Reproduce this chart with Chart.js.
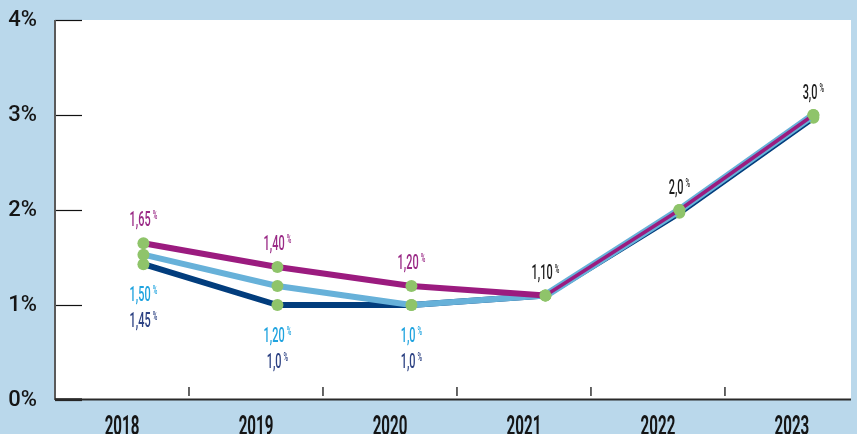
<!DOCTYPE html>
<html><head><meta charset="utf-8">
<style>
html,body{margin:0;padding:0;background:#bad8eb;overflow:hidden;}
#wrap{position:relative;width:857px;height:434px;}
</style>
<script src="https://cdn.jsdelivr.net/npm/chart.js@4"></script>
</head><body>
<div id="wrap"><canvas id="c" width="857" height="434"></canvas></div>
<script>
// ---- data ----
const years = ['2018','2019','2020','2021','2022','2023'];
const yTickValues = [0,1,2,3,4];
const purpleValues = [1.65, 1.40, 1.20, 1.10, 2.0, 3.0];
const lightValues  = [1.53, 1.20, 1.00, 1.10, 2.0, 3.0];
const darkValues   = [1.43, 1.00, 1.00, 1.10, 1.97, 2.97];
const purpleLabels = ['1,65','1,40','1,20', null, null, null];
const lightLabels  = ['1,50','1,20','1,0', null, null, null];
const darkLabels   = ['1,45','1,0','1,0', null, null, null];
const commonLabels = [null, null, null, '1,10','2,0','3,0'];

// ---- style ----
const PURPLE='#9b1b7f', LIGHT='#67b1d9', DARK='#023d7d', GREEN='#8fc46a';
const T_PURPLE='#9a2a86', T_LIGHT='#1fa3df', T_DARK='#2d4283', T_COMMON='#1c1c1c';
const PT_OFF = 0.16;
const BAND = 135;

function pts(vals){ return vals.map((v,i)=>({x:i+PT_OFF, y:v})); }

function drawPct(ctx, text, cx, cy, color){
  ctx.save();
  ctx.fillStyle = color;
  const sx = 0.52;
  const F1 = '500 21px Roboto', F2 = '500 12px Roboto';
  ctx.font = F1;
  const w = ctx.measureText(text).width*sx;
  ctx.font = F2;
  const pw = ctx.measureText('%').width*sx;
  const gap = 2;
  const total = w + gap + pw;
  const x0 = cx - total/2;
  ctx.textBaseline='alphabetic';
  ctx.textAlign='left';
  ctx.translate(x0, cy + 7.5);
  ctx.scale(sx,1);
  ctx.font = F1;
  ctx.fillText(text, 0, 0);
  ctx.font = F2;
  ctx.fillText('%', (w+gap)/sx, -6.5);
  ctx.restore();
}

const deco = {
  id:'deco',
  beforeDraw(chart){
    const {ctx, chartArea:a} = chart;
    ctx.save();
    ctx.fillStyle='#ffffff';
    ctx.fillRect(a.left, a.top, a.right-a.left, a.bottom-a.top);
    ctx.restore();
  },
  beforeDatasetsDraw(chart){
    const {ctx, chartArea:a, scales:{x,y}} = chart;
    ctx.save();
    ctx.strokeStyle='#111'; ctx.lineWidth=1.2;
    yTickValues.forEach(v=>{
      const py = Math.round(y.getPixelForValue(v))+0.5;
      ctx.beginPath(); ctx.moveTo(a.left, py); ctx.lineTo(a.left+27, py); ctx.stroke();
    });
    ctx.strokeStyle='#333'; ctx.lineWidth=1.5;
    for(let i=0;i<years.length-1;i++){
      const px = x.getPixelForValue(i+0.5);
      ctx.beginPath(); ctx.moveTo(px, a.bottom-13); ctx.lineTo(px, a.bottom-4); ctx.stroke();
    }
    ctx.strokeStyle='#5a5a5a'; ctx.lineWidth=2;
    ctx.beginPath(); ctx.moveTo(a.left, a.top); ctx.lineTo(a.left, a.bottom); ctx.stroke();
    ctx.strokeStyle='#2a2a2a'; ctx.lineWidth=2;
    ctx.beginPath(); ctx.moveTo(a.left, a.bottom-0.5); ctx.lineTo(a.right, a.bottom-0.5); ctx.stroke();
    ctx.lineWidth=2.5;
    ctx.beginPath(); ctx.moveTo(a.left, a.bottom-0.5); ctx.lineTo(a.left+27, a.bottom-0.5); ctx.stroke();
    ctx.restore();
  },
  afterDatasetsDraw(chart){
    const {ctx, chartArea:a, scales:{x,y}} = chart;
    ctx.save();
    ctx.fillStyle='#151515';
    ctx.font='bold 28px Roboto';
    ctx.textBaseline='top';
    ctx.textAlign='center';
    years.forEach((yr,i)=>{
      const px = x.getPixelForValue(i);
      ctx.save();
      ctx.translate(px, a.bottom+14);
      ctx.scale(0.54,1);
      ctx.fillText(yr, 0, 0);
      ctx.restore();
    });
    ctx.restore();
    years.forEach((yr,i)=>{
      const px = x.getPixelForValue(i+PT_OFF);
      if(purpleLabels[i]) drawPct(ctx, purpleLabels[i], px, y.getPixelForValue(purpleValues[i])-25, T_PURPLE);
      if(commonLabels[i]) drawPct(ctx, commonLabels[i], px, y.getPixelForValue(purpleValues[i])-24, T_COMMON);
      const low = Math.max(y.getPixelForValue(lightValues[i]), y.getPixelForValue(darkValues[i]));
      if(lightLabels[i]) drawPct(ctx, lightLabels[i], px, low+29, T_LIGHT);
      if(darkLabels[i]) drawPct(ctx, darkLabels[i], px, low+55, T_DARK);
    });
  }
};

const common = {
  fill:false, tension:0, pointRadius:6, pointHoverRadius:6,
  pointBackgroundColor:GREEN, pointBorderWidth:0, borderCapStyle:'round', borderJoinStyle:'round'
};

new Chart(document.getElementById('c'), {
  type:'line',
  data:{ datasets:[
    Object.assign({label:'a', data:pts(purpleValues), borderColor:PURPLE, borderWidth:6,
      segment:{borderWidth:c=> c.p0DataIndex>=3 ? 3.5 : 6}}, common),
    Object.assign({label:'b', data:pts(lightValues), borderColor:LIGHT, borderWidth:6,
      segment:{borderWidth:c=> c.p0DataIndex>=3 ? 7.5 : 6}}, common),
    Object.assign({label:'c', data:pts(darkValues), borderColor:DARK, borderWidth:6}, common)
  ]},
  options:{
    responsive:false, animation:false, devicePixelRatio:1,
    layout:{padding:{top:0,right:0,bottom:0,left:0}},
    plugins:{legend:{display:false}, tooltip:{enabled:false}},
    events:[],
    scales:{
      x:{type:'linear', min:-0.5, max:-0.5+802/BAND,
        ticks:{display:false}, grid:{display:false, drawTicks:false}, border:{display:false},
        afterFit(s){ s.height=34; }},
      y:{min:0, max:4,
        afterBuildTicks(s){ s.ticks = yTickValues.map(v=>({value:v})); },
        ticks:{padding:18, color:'#151515', font:{family:'Roboto', size:22, weight:'500'},
          callback:v=>v+'%'},
        grid:{display:false, drawTicks:false}, border:{display:false},
        afterFit(s){ s.width=55; s.paddingTop=20; }}
    }
  },
  plugins:[deco]
});
</script>
</body></html>
